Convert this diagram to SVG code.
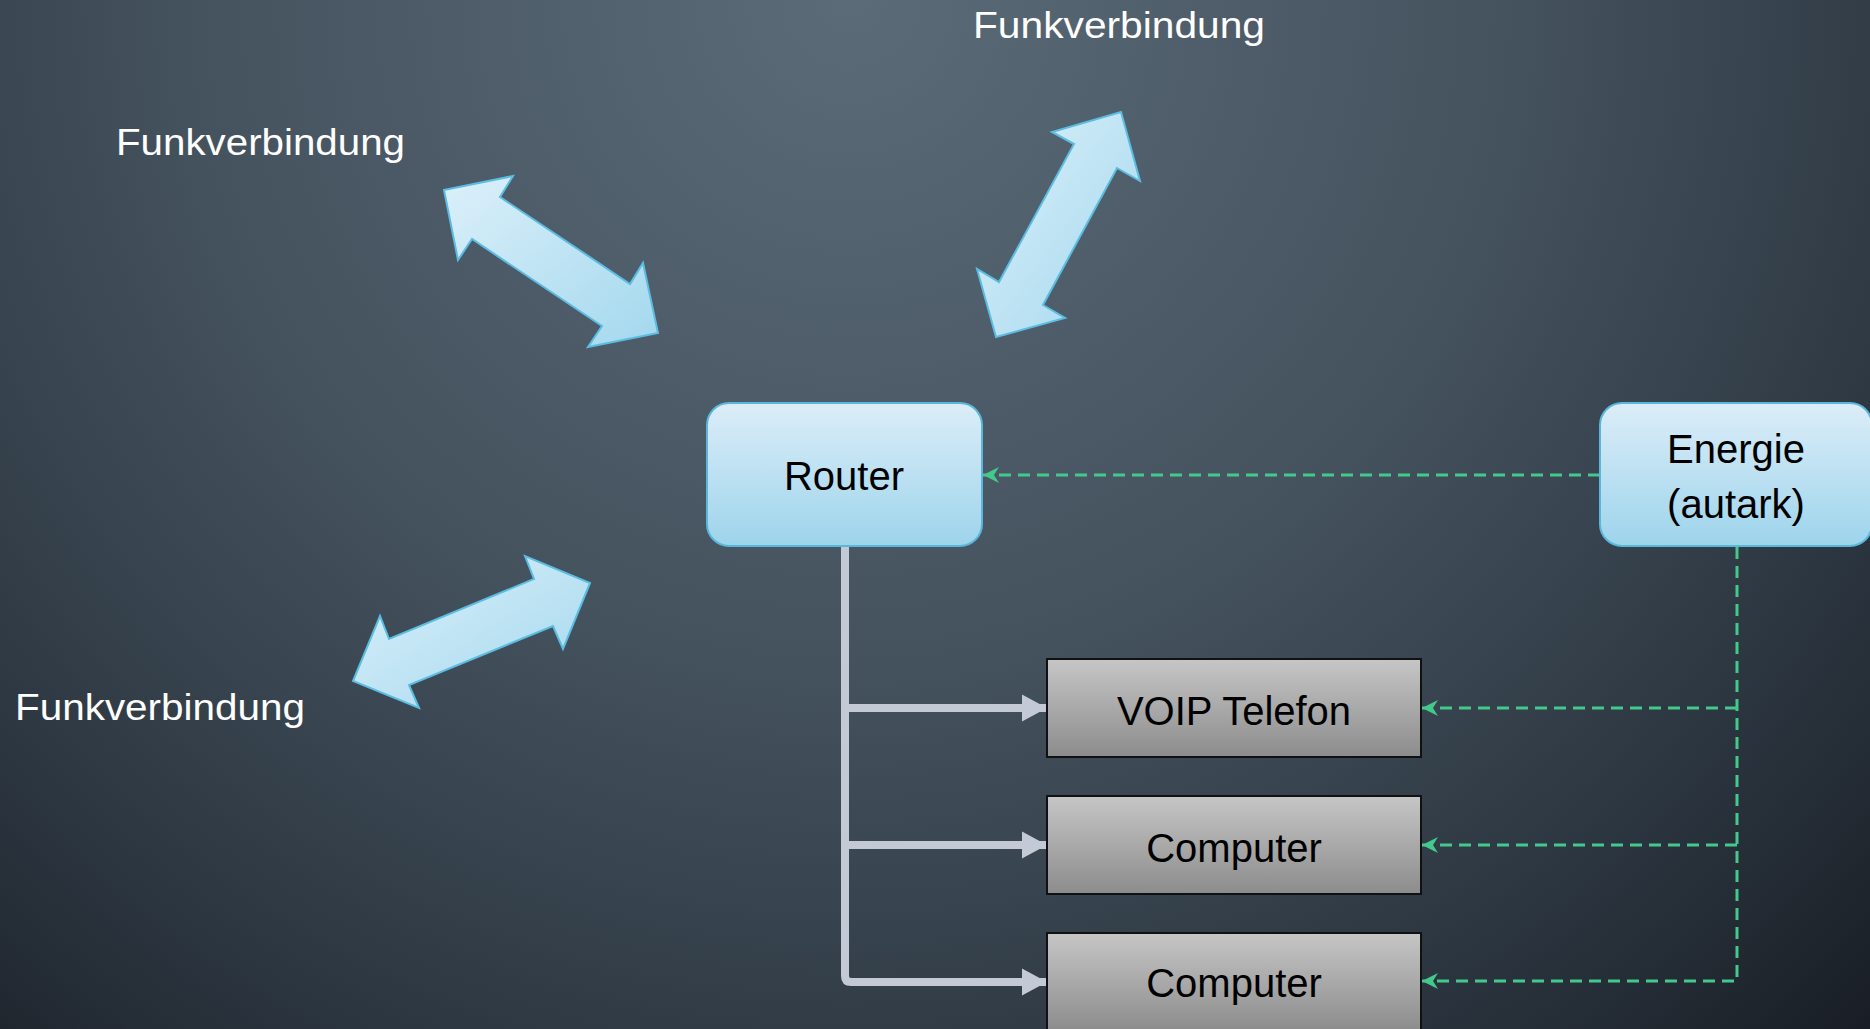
<svg xmlns="http://www.w3.org/2000/svg" width="1870" height="1029" viewBox="0 0 1870 1029">
  <defs>
    <radialGradient id="bg" gradientUnits="userSpaceOnUse" cx="850" cy="0" r="1500">
      <stop offset="0" stop-color="#5b6b78"/>
      <stop offset="0.45" stop-color="#44525e"/>
      <stop offset="0.75" stop-color="#2c3640"/>
      <stop offset="1" stop-color="#161a21"/>
    </radialGradient>
    <linearGradient id="blue" x1="0" y1="0" x2="0" y2="1">
      <stop offset="0" stop-color="#dcedf8"/>
      <stop offset="1" stop-color="#9dd4ec"/>
    </linearGradient>
    <linearGradient id="blueArrow" x1="0" y1="0" x2="1" y2="1">
      <stop offset="0" stop-color="#dcf0fa"/>
      <stop offset="1" stop-color="#a3d8ee"/>
    </linearGradient>
    <linearGradient id="grey" x1="0" y1="0" x2="0" y2="1">
      <stop offset="0" stop-color="#c6c6c6"/>
      <stop offset="1" stop-color="#8c8c8c"/>
    </linearGradient>
    <marker id="greenHead" markerUnits="userSpaceOnUse" markerWidth="20" markerHeight="20" viewBox="-18 -10 20 20" refX="0" refY="0" orient="auto">
      <path d="M0,0 L-16,-8 L-11,0 L-16,8 Z" fill="#43c98b"/>
    </marker>
    <marker id="greyHead" markerUnits="userSpaceOnUse" markerWidth="28" markerHeight="30" viewBox="-26 -15 28 30" refX="0" refY="0" orient="auto">
      <path d="M0,0 L-25,-13.5 L-25,13.5 Z" fill="#c3cad5"/>
    </marker>
  </defs>
  <style>
    .label { font-family: "Liberation Sans", Arial, sans-serif; }
    .radio { font-size: 36px; fill: #ffffff; }
    .nodeText { font-size: 40px; fill: #000000; text-anchor: middle; }
    .blueBox { fill: url(#blue); stroke: #5ab7dc; stroke-width: 2; }
    .greyBox { fill: url(#grey); stroke: #111111; stroke-width: 2; }
    .wireless { fill: url(#blueArrow); stroke: #5bbde2; stroke-width: 2; stroke-linejoin: miter; }
    .power { fill: none; stroke: #43c98b; stroke-width: 3; stroke-dasharray: 12 7; }
    .lan { fill: none; stroke: #c3cad5; stroke-width: 8; }
  </style>

  <rect x="0" y="0" width="1870" height="1029" fill="url(#bg)"/>

  <!-- wireless links -->
  <g id="wireless-links">
    <polygon class="wireless" points="444,190 513,176 500,197 630,284 643,263 658,333 588,347 602,326 472,239 458,260"/>
    <polygon class="wireless" points="1121,112 1140,181 1117,168 1043,305 1065,318 996,337 977,269 999,282 1074,144 1052,132"/>
    <polygon class="wireless" points="590,583 563,649 553,626 409,685 419,708 353,681 380,616 389,639 534,579 525,556"/>
  </g>

  <g id="radio-labels" class="label radio">
    <text x="973" y="38" textLength="292" lengthAdjust="spacingAndGlyphs">Funkverbindung</text>
    <text x="116" y="155" textLength="289" lengthAdjust="spacingAndGlyphs">Funkverbindung</text>
    <text x="15" y="720" textLength="290" lengthAdjust="spacingAndGlyphs">Funkverbindung</text>
  </g>

  <!-- connectors -->
  <g id="connectors">
    <path class="lan" d="M845,546 V976 Q845,982 851,982 H1047" marker-end="url(#greyHead)"/>
    <path class="lan" d="M845,708 H1047" marker-end="url(#greyHead)"/>
    <path class="lan" d="M845,845 H1047" marker-end="url(#greyHead)"/>

    <path class="power" d="M1600,475 H983" marker-end="url(#greenHead)"/>
    <path class="power" d="M1737,547 V981 H1422" marker-end="url(#greenHead)"/>
    <path class="power" d="M1737,708 H1422" marker-end="url(#greenHead)"/>
    <path class="power" d="M1737,845 H1422" marker-end="url(#greenHead)"/>
  </g>

  <g id="router">
    <rect class="blueBox" x="707" y="403" width="275" height="143" rx="22" ry="22"/>
    <text class="label nodeText" x="844" y="490">Router</text>
  </g>

  <g id="energie">
    <rect class="blueBox" x="1600" y="403" width="272" height="143" rx="22" ry="22"/>
    <text class="label nodeText" x="1736" y="463">Energie</text>
    <text class="label nodeText" x="1736" y="518">(autark)</text>
  </g>

  <g id="voip">
    <rect class="greyBox" x="1047" y="659" width="374" height="98"/>
    <text class="label nodeText" x="1234" y="725">VOIP Telefon</text>
  </g>

  <g id="computer-1">
    <rect class="greyBox" x="1047" y="796" width="374" height="98"/>
    <text class="label nodeText" x="1234" y="862">Computer</text>
  </g>

  <g id="computer-2">
    <rect class="greyBox" x="1047" y="933" width="374" height="98"/>
    <text class="label nodeText" x="1234" y="997">Computer</text>
  </g>
</svg>
